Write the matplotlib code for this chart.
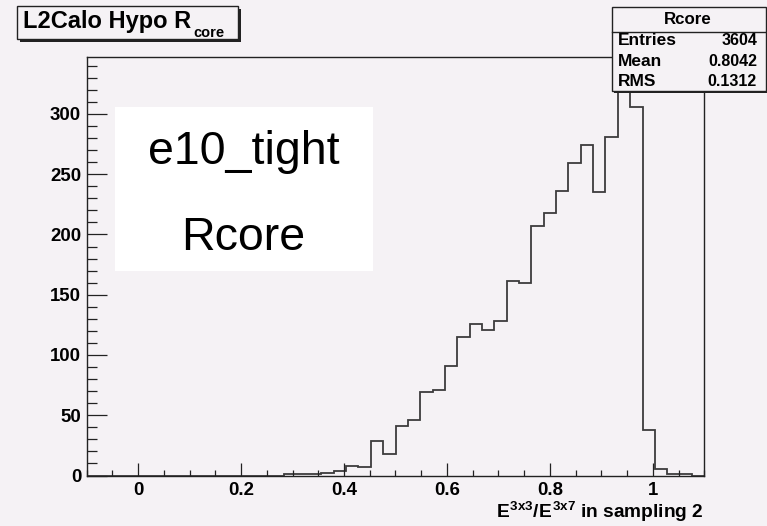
import numpy as np
import matplotlib.pyplot as plt
from matplotlib.patches import Rectangle
from matplotlib.ticker import MultipleLocator

# Histogram contents (50 bins from -0.1 to 1.1)
x_min, x_max, n_bins = -0.1, 1.1, 50
counts = [0, 0, 0, 0, 0, 0, 0, 0, 0, 0,
          0, 0, 0, 0, 0, 0, 1, 1, 1, 2,
          4, 8, 7, 29, 18, 41, 46, 69, 71, 91,
          115, 126, 121, 128, 161, 160, 207, 218, 236, 259,
          274, 235, 281, 331, 306, 38, 5, 1, 1, 0]

x_ticks = [0, 0.2, 0.4, 0.6, 0.8, 1.0]
x_tick_labels = ["0", "0.2", "0.4", "0.6", "0.8", "1"]
y_ticks = [0, 50, 100, 150, 200, 250, 300]

stats_title = "Rcore"
stats_names = ["Entries", "Mean", "RMS"]
stats_values = ["3604", "0.8042", "0.1312"]

W, H = 767, 526
bg = "#f5f2f5"
font = "Liberation Sans"

plt.rcParams["font.family"] = [font, "DejaVu Sans"]
plt.rcParams["mathtext.fontset"] = "custom"
plt.rcParams["mathtext.rm"] = font + ":bold"
plt.rcParams["mathtext.it"] = font + ":bold"
plt.rcParams["mathtext.bf"] = font + ":bold"


def fx(px):
    return px / W


def fy(py):
    return 1 - py / H


def pave(x0, y0, x1, y1, shadow=3, face=bg):
    # ROOT style box with a dark drop shadow
    fig.add_artist(Rectangle((fx(x0 + shadow), fy(y1 + shadow)), fx(x1 - x0), (y1 - y0) / H,
                             transform=fig.transFigure, facecolor="#222222", edgecolor="none", zorder=5))
    fig.add_artist(Rectangle((fx(x0), fy(y1)), fx(x1 - x0), (y1 - y0) / H,
                             transform=fig.transFigure, facecolor=face, edgecolor="#222222",
                             linewidth=1.0, zorder=6))


fig = plt.figure(figsize=(W / 100, H / 100), dpi=100, facecolor=bg)

left, right, top, bottom = 86.7, 704.3, 56.7, 475.5
ax = fig.add_axes([fx(left), fy(bottom), fx(right - left), (bottom - top) / H])
ax.set_facecolor(bg)

edges = np.linspace(x_min, x_max, n_bins + 1)
ax.stairs(counts, edges, baseline=0, color="#3c3c3c", linewidth=1.3)

ax.set_xlim(x_min, x_max)
ax.set_ylim(0, 347.5)
ax.set_xticks(x_ticks)
ax.set_xticklabels(x_tick_labels)
ax.xaxis.set_minor_locator(MultipleLocator(0.05))
ax.set_yticks(y_ticks)
ax.yaxis.set_minor_locator(MultipleLocator(10))

ax.tick_params(which="both", direction="in", top=False, right=False,
               color="#222222", width=0.9, labelsize=13.4)
ax.tick_params(axis="x", which="major", length=9.1, pad=4.5)
ax.tick_params(axis="x", which="minor", length=4.3)
ax.tick_params(axis="y", which="major", length=14.4, pad=4)
ax.tick_params(axis="y", which="minor", length=7.2)
for lab in ax.get_xticklabels() + ax.get_yticklabels():
    lab.set_fontweight("bold")
for sp in ax.spines.values():
    sp.set_color("#222222")
    sp.set_linewidth(1.0)

# x axis title, right aligned
fig.text(fx(703.5), fy(518.3), r"$E^{3x3}/E^{3x7}$ in sampling 2",
         ha="right", va="baseline", fontsize=13.8, fontweight="bold")

# histogram title box
pave(16.7, 6, 238, 39)
t = fig.text(fx(22.7), fy(28.3), "L2Calo Hypo R", ha="left", va="baseline",
             fontsize=17, fontweight="bold", zorder=7)
fig.canvas.draw()
bb = t.get_window_extent()
fig.text(fx(bb.x1 + 3), fy(37.3), "core", ha="left", va="baseline",
         fontsize=10.5, fontweight="bold", zorder=7)

# statistics box
pave(611.7, 7.3, 765.5, 90.7, shadow=2)
fig.add_artist(plt.Line2D([fx(611.7), fx(765.5)], [fy(31.7), fy(31.7)],
                          transform=fig.transFigure, color="#222222", linewidth=1.0, zorder=7))
fig.text(fx(688), fy(19.5), stats_title, ha="center", va="center",
         fontsize=12.2, fontweight="bold", zorder=7)
for i, (name, val) in enumerate(zip(stats_names, stats_values)):
    yy = 40.7 + i * 20.3
    fig.text(fx(618), fy(yy), name, ha="left", va="center",
             fontsize=12.5, fontweight="bold", zorder=7)
    fig.text(fx(757), fy(yy), val, ha="right", va="center",
             fontsize=11.5, fontweight="bold", zorder=7)

# white label box
fig.add_artist(Rectangle((fx(115), fy(270.7)), fx(372.7 - 115), (270.7 - 106.7) / H,
                         transform=fig.transFigure, facecolor="white", edgecolor="none", zorder=4))
fig.text(fx(243.5), fy(164), "e10_tight", ha="center", va="baseline", fontsize=33.5, zorder=7)
fig.text(fx(243.5), fy(250), "Rcore", ha="center", va="baseline", fontsize=33.5, zorder=7)

fig.savefig("out.png", dpi=100, facecolor=bg)
